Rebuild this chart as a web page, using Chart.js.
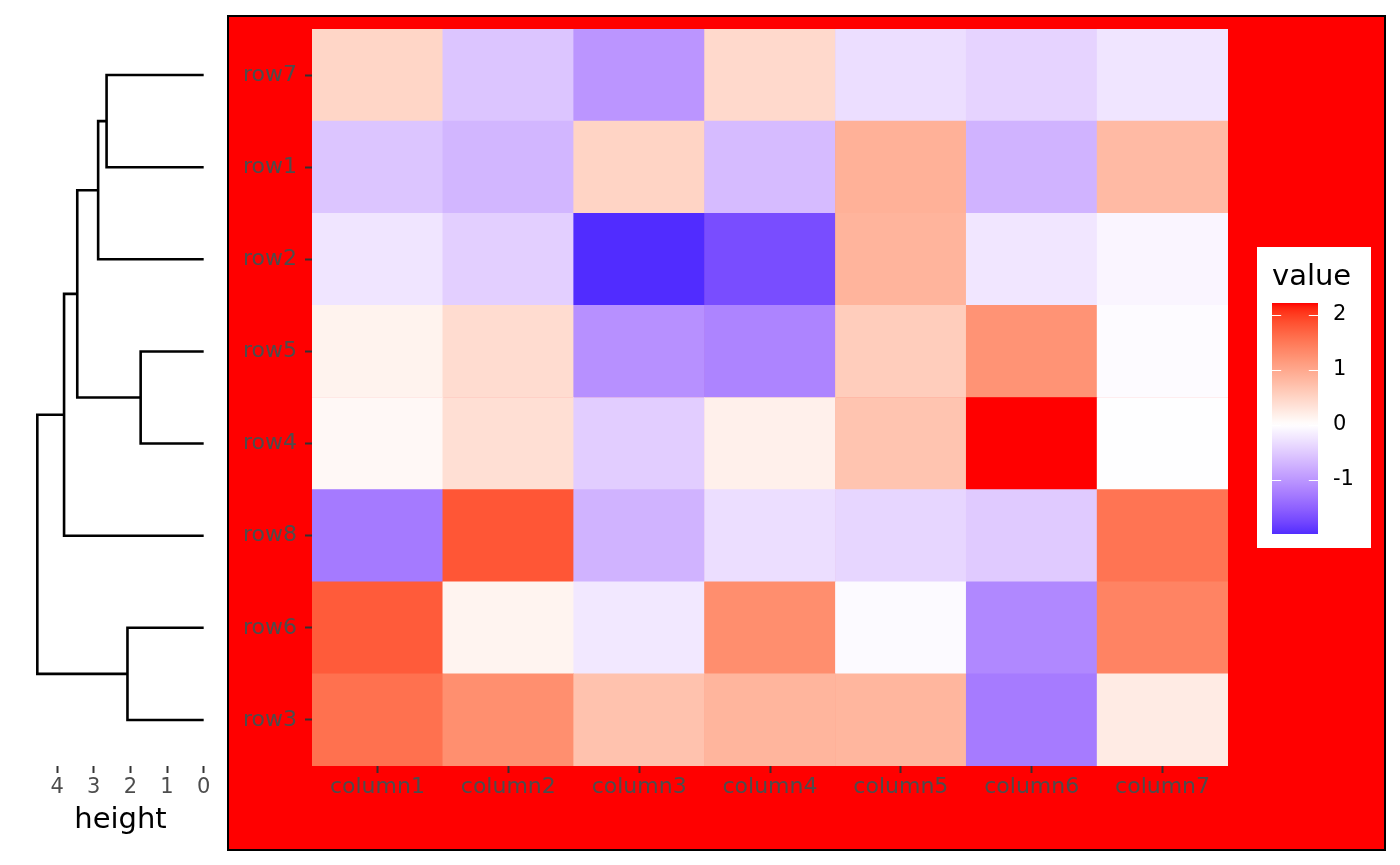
<!DOCTYPE html>
<html>
<head>
<meta charset="utf-8">
<script src="https://cdn.jsdelivr.net/npm/chart.js@4"></script>
<style>
  body { margin: 0; background: #fff; }
  #wrap { position: relative; width: 1400px; height: 865px; }
  canvas { position: absolute; }
  #dendro { left: 0; top: 0; }
  #heat { left: 227px; top: 15px; }
  #legend { left: 1257px; top: 247px; z-index: 2; }
</style>
</head>
<body>
<div id="wrap">
  <canvas id="dendro" width="227" height="865"></canvas>
  <canvas id="heat" width="1159" height="836"></canvas>
  <canvas id="legend" width="114" height="301"></canvas>
</div>
<script>
// rows as they appear from top to bottom (dendrogram order)
const rowNames = ['row7', 'row1', 'row2', 'row5', 'row4', 'row8', 'row6', 'row3'];
const colNames = ['column1', 'column2', 'column3', 'column4', 'column5', 'column6', 'column7'];

const row7 = [0.48, -0.55, -1.01, 0.44, -0.31, -0.41, -0.24];
const row1 = [-0.55, -0.69, 0.50, -0.64, 0.90, -0.72, 0.79];
const row2 = [-0.24, -0.45, -1.98, -1.70, 0.86, -0.23, -0.09];
const row5 = [0.14, 0.40, -1.06, -1.17, 0.58, 1.22, -0.04];
const row4 = [0.08, 0.37, -0.47, 0.17, 0.68, 2.21, -0.01];
const row8 = [-1.27, 1.81, -0.72, -0.31, -0.39, -0.50, 1.54];
const row6 = [1.77, 0.13, -0.22, 1.28, -0.05, -1.14, 1.39];
const row3 = [1.57, 1.27, 0.70, 0.85, 0.84, -1.26, 0.23];

// hclust style merges: strings are leaves, numbers point to an earlier merge (1-based)
const merges = [['row5', 'row4'], ['row6', 'row3'], ['row7', 'row1'], [3, 'row2'], [4, 1], [5, 'row8'], [6, 2]];
const mergeHeights = [1.72, 2.08, 2.65, 2.88, 3.45, 3.81, 4.54];
const heightTicks = [0, 1, 2, 3, 4];
const legendTicks = [-1, 0, 1, 2];

const rowData = { row7, row1, row2, row5, row4, row8, row6, row3 };
const rowsBottomUp = rowNames.slice().reverse();

Chart.defaults.font.family = "'DejaVu Sans', sans-serif";
Chart.defaults.animation = false;
Chart.defaults.events = [];

// ---- colour scale: blue / white / red, Lab interpolation like ggplot's gradient2
const allVals = rowNames.flatMap(r => rowData[r]);
const vMin = Math.min(...allVals);
const vMax = Math.max(...allVals);
const maxAbs = Math.max(Math.abs(vMin), Math.abs(vMax));

function toLin(c) { c /= 255; return c <= 0.04045 ? c / 12.92 : Math.pow((c + 0.055) / 1.055, 2.4); }
function toS(c) {
  c = c <= 0.0031308 ? 12.92 * c : 1.055 * Math.pow(c, 1 / 2.4) - 0.055;
  return Math.round(Math.min(1, Math.max(0, c)) * 255);
}
function rgbToLab(rgb) {
  const [r, g, b] = rgb.map(toLin);
  const x = (0.4124564 * r + 0.3575761 * g + 0.1804375 * b) / 0.95047;
  const y = 0.2126729 * r + 0.7151522 * g + 0.0721750 * b;
  const z = (0.0193339 * r + 0.1191920 * g + 0.9503041 * b) / 1.08883;
  const f = t => t > 0.008856 ? Math.cbrt(t) : 7.787 * t + 16 / 116;
  return [116 * f(y) - 16, 500 * (f(x) - f(y)), 200 * (f(y) - f(z))];
}
function labToRgb([L, a, b]) {
  const fy = (L + 16) / 116, fx = fy + a / 500, fz = fy - b / 200;
  const inv = t => t > 0.206893 ? t * t * t : (t - 16 / 116) / 7.787;
  const x = 0.95047 * inv(fx), y = inv(fy), z = 1.08883 * inv(fz);
  const r = 3.2404542 * x - 1.5371385 * y - 0.4985314 * z;
  const g = -0.9692660 * x + 1.8760108 * y + 0.0415560 * z;
  const bb = 0.0556434 * x - 0.2040259 * y + 1.0572252 * z;
  return [toS(r), toS(g), toS(bb)];
}
const labLow = rgbToLab([0, 0, 255]);
const labMid = rgbToLab([255, 255, 255]);
const labHigh = rgbToLab([255, 0, 0]);

function fillFor(v) {
  const t = v / (2 * maxAbs) + 0.5;
  let a, b, k;
  if (t < 0.5) { a = labLow; b = labMid; k = t / 0.5; }
  else { a = labMid; b = labHigh; k = (t - 0.5) / 0.5; }
  const lab = a.map((c, i) => c + (b[i] - c) * k);
  const rgb = labToRgb(lab);
  return `rgb(${rgb[0]},${rgb[1]},${rgb[2]})`;
}

// scales otherwise reserve half a label height at their ends
function noEndPad(s) { s.paddingTop = 0; s.paddingBottom = 0; s.paddingLeft = 0; s.paddingRight = 0; }

// ---- dendrogram
const leafPos = {};
rowsBottomUp.forEach((r, i) => { leafPos[r] = i + 0.5; });
const nodes = [];
function nodeInfo(ref) {
  if (typeof ref === 'string') return { h: 0, y: leafPos[ref] };
  return nodes[ref - 1];
}
const dendroSets = merges.map((m, i) => {
  const a = nodeInfo(m[0]);
  const b = nodeInfo(m[1]);
  const h = mergeHeights[i];
  nodes.push({ h: h, y: (a.y + b.y) / 2 });
  return {
    data: [{ x: a.h, y: a.y }, { x: h, y: a.y }, { x: h, y: b.y }, { x: b.h, y: b.y }],
    borderColor: '#000',
    borderWidth: 2.6,
    borderJoinStyle: 'miter',
    pointRadius: 0,
    showLine: true,
    fill: false,
    tension: 0
  };
});
const hTop = Math.max(...mergeHeights);

new Chart(document.getElementById('dendro'), {
  type: 'scatter',
  data: { datasets: dendroSets },
  options: {
    responsive: false,
    layout: { padding: { left: 29, right: 15, top: 29, bottom: 0 } },
    plugins: { legend: { display: false }, tooltip: { enabled: false } },
    scales: {
      x: {
        type: 'linear',
        reverse: true,
        min: -0.05 * hTop,
        max: hTop * 1.05,
        afterBuildTicks: s => { s.ticks = heightTicks.map(v => ({ value: v })); },
        afterFit: s => { s.height = 99; noEndPad(s); },
        grid: { display: true, drawOnChartArea: false, drawTicks: true, tickLength: 7, tickColor: '#333333', tickWidth: 2 },
        border: { display: false },
        ticks: { color: '#4d4d4d', font: { size: 21 }, padding: 2, maxRotation: 0, autoSkip: false },
        title: { display: true, text: 'height', color: '#000', font: { size: 29 }, padding: { top: 0, bottom: 27 } }
      },
      y: { type: 'linear', min: 0, max: rowNames.length, display: false }
    }
  }
});

// ---- heatmap (stacked unit bars, one dataset per row)
const panelBg = {
  id: 'panelBg',
  beforeDraw(chart) {
    const c = chart.ctx;
    c.save();
    c.fillStyle = '#ff0000';
    c.fillRect(0, 0, chart.width, chart.height);
    c.strokeStyle = '#000';
    c.lineWidth = 2;
    c.strokeRect(1, 1, chart.width - 2, chart.height - 2);
    c.restore();
  }
};

const heatSets = rowsBottomUp.map(r => ({
  label: r,
  data: colNames.map(() => 1),
  backgroundColor: rowData[r].map(fillFor),
  borderWidth: 0,
  barPercentage: 1,
  categoryPercentage: 1
}));

new Chart(document.getElementById('heat'), {
  type: 'bar',
  data: { labels: colNames, datasets: heatSets },
  options: {
    responsive: false,
    layout: { padding: { left: 0, right: 158, top: 14, bottom: 0 } },
    plugins: { legend: { display: false }, tooltip: { enabled: false } },
    scales: {
      x: {
        stacked: true,
        afterFit: s => { s.height = 85; noEndPad(s); },
        grid: { display: true, offset: false, drawOnChartArea: false, drawTicks: true, tickLength: 7, tickColor: '#333333', tickWidth: 2 },
        border: { display: false },
        ticks: { color: '#4d4d4d', font: { size: 22 }, padding: 1, maxRotation: 0, autoSkip: false }
      },
      y: {
        stacked: true,
        type: 'linear',
        min: 0,
        max: rowNames.length,
        afterBuildTicks: s => { s.ticks = rowsBottomUp.map((r, i) => ({ value: i + 0.5 })); },
        afterFit: s => { s.width = 85; noEndPad(s); },
        grid: { display: true, drawOnChartArea: false, drawTicks: true, tickLength: 7, tickColor: '#333333', tickWidth: 2 },
        border: { display: false },
        ticks: { color: '#4d4d4d', font: { size: 22 }, padding: 8, autoSkip: false, callback: (v, i) => rowsBottomUp[i] }
      }
    }
  },
  plugins: [panelBg]
});

// ---- colour bar legend
const legendBox = {
  id: 'legendBox',
  beforeDraw(chart) {
    const c = chart.ctx;
    c.save();
    c.fillStyle = '#fff';
    c.fillRect(0, 0, chart.width, chart.height);
    c.fillStyle = '#000';
    c.font = "29px 'DejaVu Sans', sans-serif";
    c.textBaseline = 'middle';
    c.fillText('value', chart.chartArea.left, 30);
    c.restore();
  },
  afterDatasetsDraw(chart) {
    const c = chart.ctx;
    const area = chart.chartArea;
    const y = chart.scales.y;
    const len = (area.right - area.left) / 5;
    c.save();
    c.strokeStyle = '#fff';
    c.lineWidth = 1;
    legendTicks.forEach(v => {
      const py = Math.round(y.getPixelForValue(v)) + 0.5;
      c.beginPath();
      c.moveTo(area.left, py); c.lineTo(area.left + len, py);
      c.moveTo(area.right - len, py); c.lineTo(area.right, py);
      c.stroke();
    });
    c.restore();
  }
};

new Chart(document.getElementById('legend'), {
  type: 'bar',
  data: {
    labels: ['value'],
    datasets: [{
      data: [[vMin, vMax]],
      backgroundColor: ctx => {
        const ch = ctx.chart;
        if (!ch.chartArea) return null;
        const ys = ch.scales.y;
        const g = ch.ctx.createLinearGradient(0, ys.getPixelForValue(vMin), 0, ys.getPixelForValue(vMax));
        for (let i = 0; i <= 60; i++) {
          g.addColorStop(i / 60, fillFor(vMin + (vMax - vMin) * i / 60));
        }
        return g;
      },
      borderWidth: 0,
      barPercentage: 1,
      categoryPercentage: 1
    }]
  },
  options: {
    responsive: false,
    layout: { padding: { left: 15, right: 0, top: 56, bottom: 14 } },
    plugins: { legend: { display: false }, tooltip: { enabled: false } },
    scales: {
      x: { display: false },
      y: {
        position: 'right',
        min: vMin,
        max: vMax,
        afterBuildTicks: s => { s.ticks = legendTicks.map(v => ({ value: v })); },
        afterFit: s => { s.width = 53; noEndPad(s); },
        grid: { display: false, drawTicks: false },
        border: { display: false },
        ticks: { color: '#000', font: { size: 21 }, padding: 15, autoSkip: false }
      }
    }
  },
  plugins: [legendBox]
});
</script>
</body>
</html>
